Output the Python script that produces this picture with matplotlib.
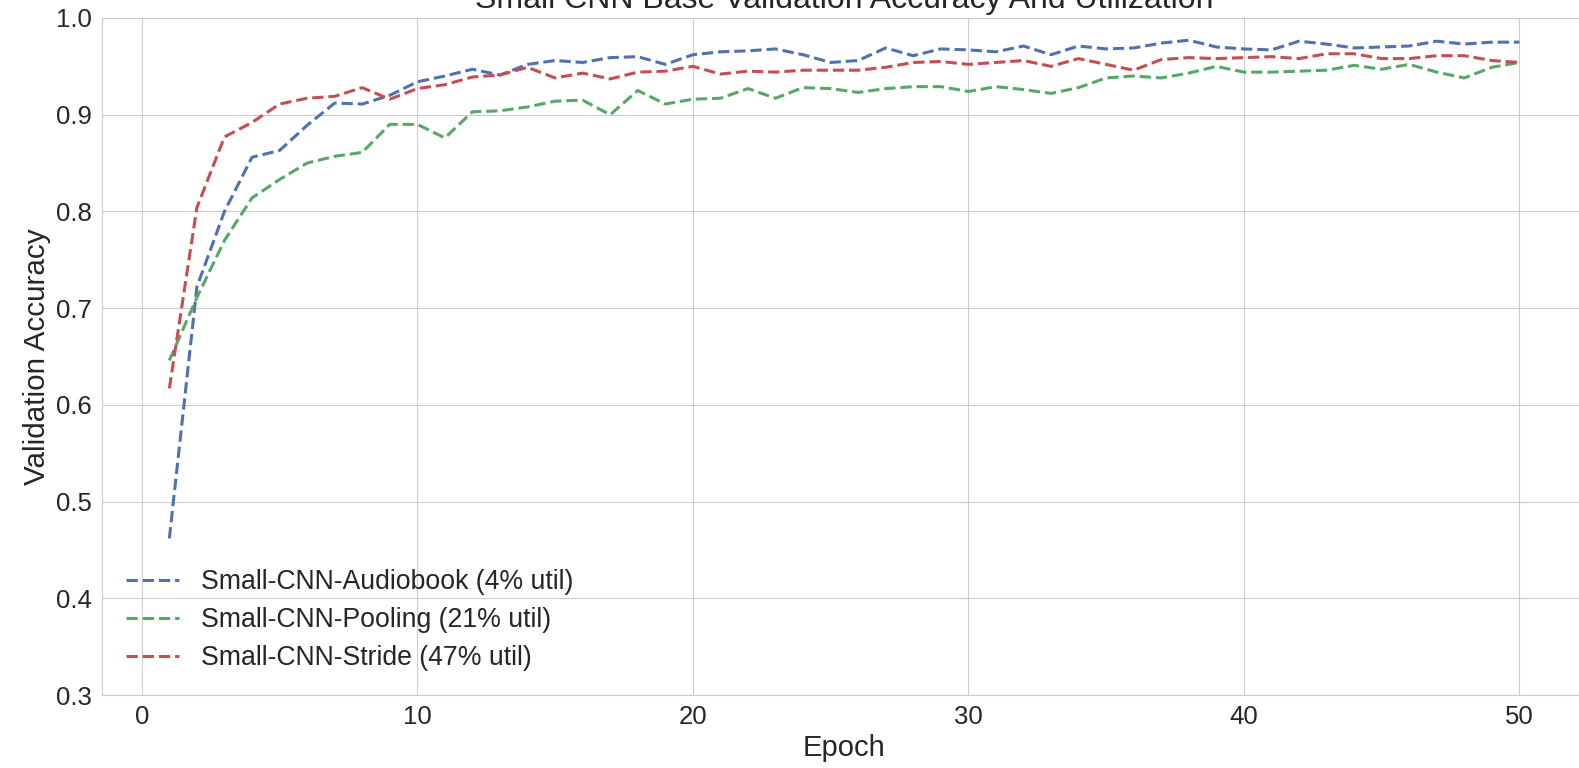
import matplotlib
matplotlib.use('Agg')
import matplotlib.pyplot as plt
import seaborn as sns
import numpy as np


epochs = np.arange(1, 51)

audiobook_acc = [0.462, 0.722, 0.80, 0.856, 0.863, 0.889, 0.912, 0.911, 0.92, 0.934,
                 0.94, 0.947, 0.941, 0.952, 0.956, 0.954, 0.959, 0.960, 0.952, 0.962,
                 0.965, 0.966, 0.968, 0.962, 0.954, 0.956, 0.969, 0.961, 0.968, 0.967,
                 0.965, 0.971, 0.962, 0.971, 0.968, 0.969, 0.974, 0.977, 0.970, 0.968,
                 0.967, 0.976, 0.973, 0.969, 0.970, 0.971, 0.976, 0.973, 0.975, 0.975]

pooling_acc = [0.646, 0.711, 0.77, 0.814, 0.833, 0.850, 0.857, 0.861, 0.890, 0.890,
               0.876, 0.903, 0.904, 0.908, 0.914, 0.915, 0.900, 0.925, 0.911, 0.916,
               0.917, 0.927, 0.917, 0.928, 0.927, 0.923, 0.927, 0.929, 0.929, 0.924,
               0.929, 0.926, 0.922, 0.928, 0.938, 0.940, 0.938, 0.943, 0.950, 0.944,
               0.944, 0.945, 0.946, 0.951, 0.947, 0.952, 0.944, 0.938, 0.949, 0.954]

stride_acc = [0.617, 0.804, 0.877, 0.892, 0.911, 0.917, 0.919, 0.928, 0.916, 0.927,
              0.931, 0.939, 0.941, 0.949, 0.938, 0.943, 0.937, 0.944, 0.945, 0.950,
              0.942, 0.945, 0.944, 0.946, 0.946, 0.946, 0.949, 0.954, 0.955, 0.952,
              0.954, 0.956, 0.950, 0.958, 0.952, 0.946, 0.957, 0.959, 0.958, 0.959,
              0.960, 0.958, 0.963, 0.963, 0.958, 0.958, 0.961, 0.961, 0.956, 0.954]

labels = ['Small-CNN-Audiobook (4% util)',
          'Small-CNN-Pooling (21% util)',
          'Small-CNN-Stride (47% util)']
colors = ['#4C72B0', '#55A868', '#C44E52']

sns.set_style('whitegrid')
plt.rcParams['font.family'] = ['Liberation Sans', 'DejaVu Sans']

fig = plt.figure(figsize=(15.79, 7.68), dpi=100)
ax = fig.add_axes([0.0645, 0.095, 0.9405, 0.8816])

for acc, lab, c in zip([audiobook_acc, pooling_acc, stride_acc], labels, colors):
    ax.plot(epochs, acc, '--', color=c, linewidth=2.2, label=lab)

ax.set_ylim(0.3, 1.0)
ax.set_xticks([0, 10, 20, 30, 40, 50])
ax.tick_params(labelsize=18.5, colors='#262626')
ax.set_xlabel('Epoch', fontsize=21, color='#262626')
ax.set_ylabel('Validation Accuracy', fontsize=21.3, color='#262626')
ax.set_title('Small CNN Base Validation Accuracy And Utilization', fontsize=23,
             color='#262626', pad=7)
ax.legend(loc='lower left', fontsize=19.2, frameon=False, labelspacing=0.45)

fig.savefig('out.png', dpi=100)
